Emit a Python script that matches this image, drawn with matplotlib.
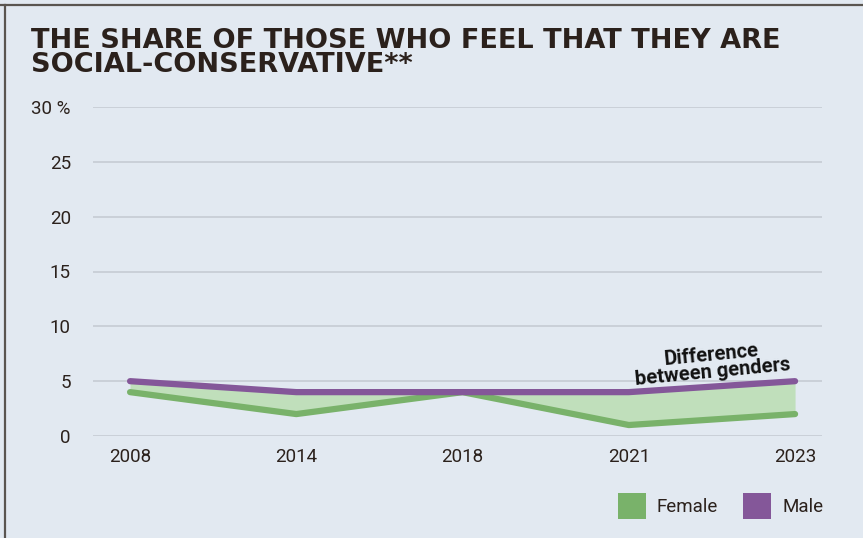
import matplotlib.pyplot as plt
from matplotlib.patches import Patch
from matplotlib.lines import Line2D

years = ["2008", "2014", "2018", "2021", "2023"]
female = [4, 2, 4, 1, 2]
male = [5, 4, 4, 4, 5]
yticks = [0, 5, 10, 15, 20, 25, 30]
ytick_labels = ["0", "5", "10", "15", "20", "25", "30 %"]

bg = "#e2e9f1"
green = "#79b26a"
purple = "#845799"
fill_green = "#c0dfbb"
dark = "#2b211c"
tick_font = "Roboto"

fig = plt.figure(figsize=(8.63, 5.38), dpi=100, facecolor=bg)

# frame lines around the card (top and left)
fig.add_artist(Line2D([0, 1], [1 - 5 / 538, 1 - 5 / 538], color="#5a5550", lw=1.6))
fig.add_artist(Line2D([5 / 863, 5 / 863], [0, 1 - 5 / 538], color="#5a5550", lw=1.6))

fig.text(31 / 863, 1 - 28 / 538, "THE SHARE OF THOSE WHO FEEL THAT THEY ARE\nSOCIAL-CONSERVATIVE**",
         fontsize=19.5, fontweight="heavy", color=dark, va="top", ha="left",
         linespacing=0.88, family="DejaVu Sans")

ax = fig.add_axes([93 / 863, 102 / 538, 729 / 863, 329 / 538])
ax.set_facecolor(bg)
x = list(range(len(years)))

ax.fill_between(x, female, male, color=fill_green, lw=0, zorder=2)
ax.plot(x, female, color=green, lw=4.5, solid_capstyle="round", zorder=3, clip_on=False)
ax.plot(x, male, color=purple, lw=4.5, solid_capstyle="round", zorder=4, clip_on=False)

ax.set_xlim(-0.223, 4.162)
ax.set_ylim(0, 30)
ax.set_yticks(yticks)
ax.set_yticklabels(ytick_labels)
ax.set_xticks(x)
ax.set_xticklabels(years)
ax.yaxis.grid(True, color="#c6cbd4", lw=1.2)
ax.set_axisbelow(True)
for s in ax.spines.values():
    s.set_visible(False)
ax.tick_params(axis="both", length=0, labelsize=13.5, colors=dark)
ax.tick_params(axis="y", pad=16)
ax.tick_params(axis="x", pad=9)
for lab in ax.get_xticklabels() + ax.get_yticklabels():
    lab.set_family(tick_font)

ax.text(3.5, 6.6, "Difference\nbetween genders", fontsize=14.5, fontweight="semibold",
        color="#111111", rotation=5.5, ha="center", va="center", linespacing=0.88,
        rotation_mode="anchor", family="Roboto")

handles = [Patch(facecolor=green, edgecolor="none", label="Female"),
           Patch(facecolor=purple, edgecolor="none", label="Male")]
leg = fig.legend(handles=handles, loc="lower right", bbox_to_anchor=(840 / 863, 2 / 538),
                 ncol=2, frameon=False, handlelength=1.5, handleheight=1.8,
                 handletextpad=0.6, columnspacing=1.3, fontsize=13.5)
for t in leg.get_texts():
    t.set_family(tick_font)
    t.set_color(dark)

fig.savefig("out.png", dpi=100, facecolor=bg)
